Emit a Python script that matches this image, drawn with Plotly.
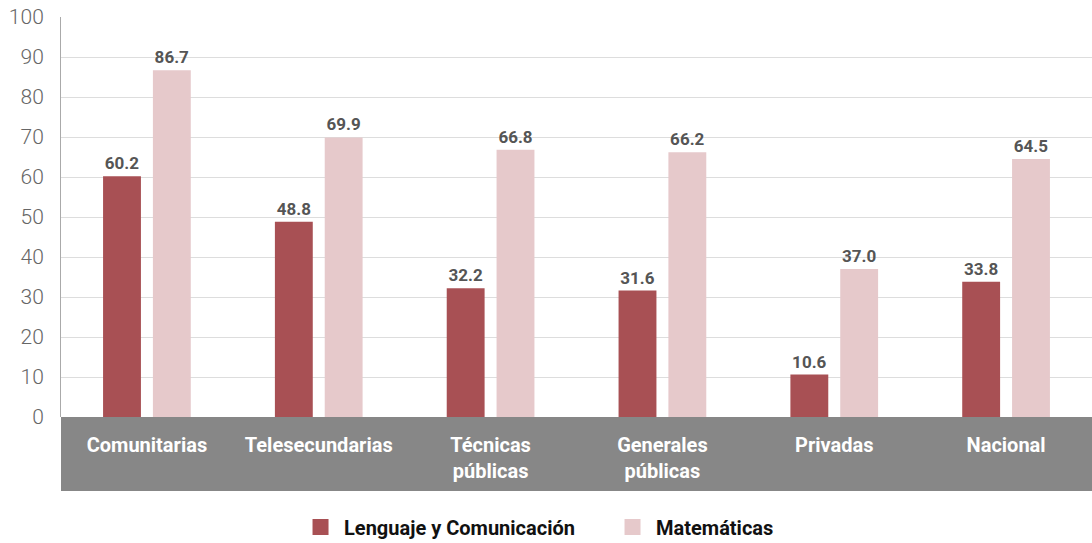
import plotly.graph_objects as go

categories = ["Comunitarias", "Telesecundarias", "Técnicas<br>públicas", "Generales<br>públicas", "Privadas", "Nacional"]
lenguaje = [60.2, 48.8, 32.2, 31.6, 10.6, 33.8]
matematicas = [86.7, 69.9, 66.8, 66.2, 37.0, 64.5]
series_names = ["Lenguaje y Comunicación", "Matemáticas"]
series_colors = ["#A85054", "#E6C9CB"]
y_ticks = [0, 10, 20, 30, 40, 50, 60, 70, 80, 90, 100]

FONT = "Roboto"
label_font = dict(family=FONT, size=17, color="#555555", weight="bold")

fig = go.Figure()
for vals, name, col in [(lenguaje, series_names[0], series_colors[0]),
                        (matematicas, series_names[1], series_colors[1])]:
    fig.add_trace(go.Bar(
        x=categories, y=vals, name=name, showlegend=False,
        marker=dict(color=col, line=dict(width=0)),
        text=[f"{v:.1f}" for v in vals], textposition="outside",
        textfont=label_font, cliponaxis=False,
    ))
# legend entries with larger square swatches
for name, col in zip(series_names, series_colors):
    fig.add_trace(go.Scatter(
        x=[None], y=[None], mode="markers", name=name,
        marker=dict(symbol="square", size=21, color=col, line=dict(width=0)),
    ))

fig.add_shape(type="rect", xref="paper", yref="paper", x0=0, x1=1, y0=0, y1=-0.185,
              fillcolor="#878787", line=dict(width=0), layer="below")

fig.update_layout(
    width=1092, height=543,
    margin=dict(l=61, r=0, t=17, b=126),
    paper_bgcolor="white", plot_bgcolor="white",
    barmode="group", bargap=0.42, bargroupgap=0.24,
    font=dict(family=FONT),
    legend=dict(orientation="h", xref="container", yref="container",
                x=0.272, xanchor="left", y=0.0295, yanchor="middle",
                font=dict(family=FONT, size=20, color="#111111", weight="bold"),
                itemwidth=37, traceorder="normal", itemsizing="trace", entrywidth=260),
    xaxis=dict(showgrid=False, showline=False, ticks="", ticklabelstandoff=14,
               tickfont=dict(family=FONT, size=20, color="white", weight="bold"),
               fixedrange=True, automargin=False),
    yaxis=dict(range=[0, 100], tickvals=y_ticks, showgrid=True, gridcolor="#DDDDDD", gridwidth=1,
               showline=True, linecolor="#AAAAAA", linewidth=1, zeroline=False,
               ticks="", ticklabelstandoff=12, automargin=False, fixedrange=True,
               tickfont=dict(family=FONT, size=21, color="#666666", weight=300)),
)

fig.write_html("out.html", config={"displayModeBar": False},
               post_script="document.body.style.margin='0';document.body.style.overflow='hidden';")
